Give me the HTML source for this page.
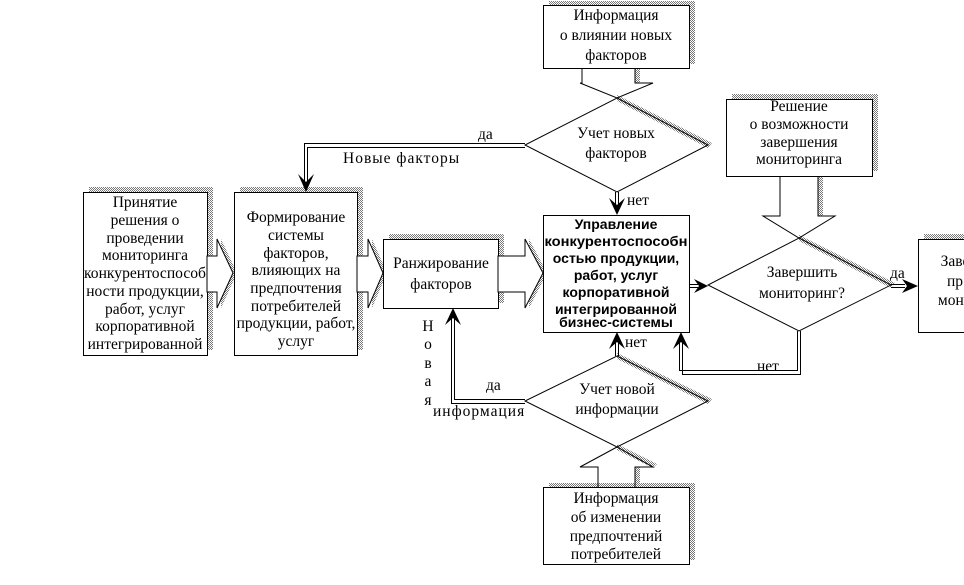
<!DOCTYPE html>
<html><head><meta charset="utf-8"><style>
html,body{margin:0;padding:0;background:#fff;}
svg{display:block;}
text{font-family:"Liberation Serif",serif;font-size:15.5px;fill:#000;}
.b{font-family:"Liberation Sans",sans-serif;font-weight:bold;font-size:14px;}
</style></head><body>
<svg width="964" height="585" viewBox="0 0 964 585" xmlns="http://www.w3.org/2000/svg">
<defs>
<pattern id="h" width="2" height="2" patternUnits="userSpaceOnUse"><rect width="2" height="2" fill="#fff"/><rect width="1" height="1" fill="#777"/><rect x="1" y="1" width="1" height="1" fill="#777"/></pattern>
</defs>
<g fill="url(#h)" stroke="none">
<rect x="89" y="187" width="124" height="163"/>
<rect x="240" y="187" width="123" height="163"/>
<rect x="389" y="234" width="115" height="69"/>
<rect x="549" y="1" width="146" height="63"/>
<rect x="732" y="94" width="146" height="77"/>
<rect x="549" y="483" width="146" height="77"/>
<rect x="924" y="234" width="40" height="93"/>
<polygon points="211,256 221,256 221,239 237,273 221,308 221,292 211,292"/>
<polygon points="361,256 372,256 372,239 387,273 372,308 372,292 361,292"/>
<polygon points="502,256 529,256 529,239 547,273 529,308 529,292 502,292"/>
<polygon points="617,95 712,143 708,148 617,101"/>
<polygon points="799,235 895,283 891,288 799,241"/>
<polygon points="617,353 712,399 708,404 617,359"/>
<polygon points="617,444 657,464 653,468 617,450"/>
<polygon points="635,64 640,64 640,83 635,83"/>
<polygon points="818,171 823,171 823,216 818,216"/>
<polygon points="635,467 640,467 640,483 635,483"/>
</g>
<g fill="#fff" stroke="#000" stroke-width="1">
<rect x="83.5" y="192.5" width="124" height="163"/>
<rect x="234.5" y="192.5" width="123" height="163"/>
<rect x="383.5" y="239.5" width="115" height="69"/>
<rect x="543.5" y="215.5" width="146" height="117"/>
<rect x="543.5" y="5.5" width="146" height="63"/>
<rect x="726.5" y="99.5" width="146" height="77"/>
<rect x="543.5" y="487.5" width="146" height="77"/>
<rect x="918.5" y="239.5" width="50" height="93"/>
<polygon points="207,256 217,256 217,239 233,273 217,308 217,292 207,292"/>
<polygon points="357,256 368,256 368,239 383,273 368,308 368,292 357,292"/>
<polygon points="498,256 525,256 525,239 543,273 525,308 525,292 498,292"/>
</g>
<g fill="none" stroke="#000" stroke-width="1">
<polygon points="617,98 708,145 617,192 525,145"/>
<polygon points="799,238 891,285 799,331 708,285"/>
<polygon points="617,356 708,401 617,447 525,401"/>
<polyline points="582,68 582,83 580,83 617,98 653,83 635,83 635,68"/>
<polyline points="780,176 780,216 763,216 799,238 835,216 818,216 818,176"/>
<polyline points="598,487 598,467 580,467 617,447 653,467 635,467 635,487"/>
</g>
<g fill="none" stroke="#000" stroke-width="1">
<path d="M525,143.5 H304.5 V185"/><path d="M525,147.5 H307.5 V185"/>
<path d="M615.5,192 V205"/><path d="M618.5,192 V205"/>
<path d="M689,284.5 H698"/><path d="M689,287.5 H698"/>
<path d="M891,284.5 H905"/><path d="M891,287.5 H905"/>
<path d="M797.5,331 V370.5 H679.5 V342"/><path d="M800.5,331 V374.5 H682.5 V342"/>
<path d="M615.5,356 V342"/><path d="M618.5,356 V342"/>
<path d="M525,399.5 H454.5 V318"/><path d="M525,403.5 H451.5 V318"/>
</g>
<g fill="#000">
<polygon points="298,174 306,192 314,174 306,182"/>
<polygon points="609,198 617,215 625,198 617,205"/>
<polygon points="694,279 708,286 694,293 699,286"/>
<polygon points="902,279 918,286 902,293 907,286"/>
<polygon points="673,349 681,332 689,349 681,342"/>
<polygon points="609,349 617,332 625,349 617,342"/>
<polygon points="445,325 453,308 461,325 453,318"/>
</g>
<g text-anchor="middle">
<text x="145" y="207">Принятие</text><text x="145" y="225">решения о</text><text x="145" y="243">проведении</text><text x="145" y="260">мониторинга</text><text x="145" y="278" textLength="122" lengthAdjust="spacingAndGlyphs">конкурентоспособ</text><text x="145" y="296">ности продукции,</text><text x="145" y="314">работ, услуг</text><text x="145" y="331">корпоративной</text><text x="145" y="349">интегрированной</text>
<text x="296" y="222">Формирование</text><text x="296" y="240">системы</text><text x="296" y="258">факторов,</text><text x="296" y="275">влияющих на</text><text x="296" y="293">предпочтения</text><text x="296" y="311">потребителей</text><text x="296" y="328">продукции, работ,</text><text x="296" y="346">услуг</text>
<text x="441" y="268">Ранжирование</text><text x="441" y="289">факторов</text>
<text x="616" y="20">Информация</text><text x="616" y="40">о влиянии новых</text><text x="616" y="60">факторов</text>
<text x="616" y="138">Учет новых</text><text x="616" y="158">факторов</text>
<text class="b" x="616" y="229">Управление</text><text class="b" x="616" y="246" textLength="143" lengthAdjust="spacingAndGlyphs">конкурентоспособн</text><text class="b" x="616" y="263">остью продукции,</text><text class="b" x="616" y="280">работ, услуг</text><text class="b" x="616" y="297">корпоративной</text><text class="b" x="616" y="314">интегрированной</text><text class="b" x="616" y="327">бизнес-системы</text>
<text x="799" y="111">Решение</text><text x="799" y="129">о возможности</text><text x="799" y="147">завершения</text><text x="799" y="164">мониторинга</text>
<text x="802" y="277">Завершить</text><text x="802" y="298">мониторинг?</text>
<text x="617" y="394">Учет новой</text><text x="617" y="414">информации</text>
<text x="616" y="503">Информация</text><text x="616" y="522">об изменении</text><text x="616" y="541">предпочтений</text><text x="616" y="559">потребителей</text>
<text x="955" y="266">Заве</text><text x="955" y="286">пр</text><text x="955" y="305">мони</text>
<text x="428" y="331">Н</text><text x="428" y="349">о</text><text x="428" y="368">в</text><text x="428" y="386">а</text><text x="428" y="405">я</text>
</g>
<text x="478" y="139">да</text>
<text x="343" y="163" letter-spacing="1">Новые факторы</text>
<text x="627" y="205">нет</text>
<text x="625" y="347">нет</text>
<text x="757" y="371">нет</text>
<text x="890" y="278">да</text>
<text x="486" y="390">да</text>
<text x="433" y="416" letter-spacing="1">информация</text>
</svg>
</body></html>
